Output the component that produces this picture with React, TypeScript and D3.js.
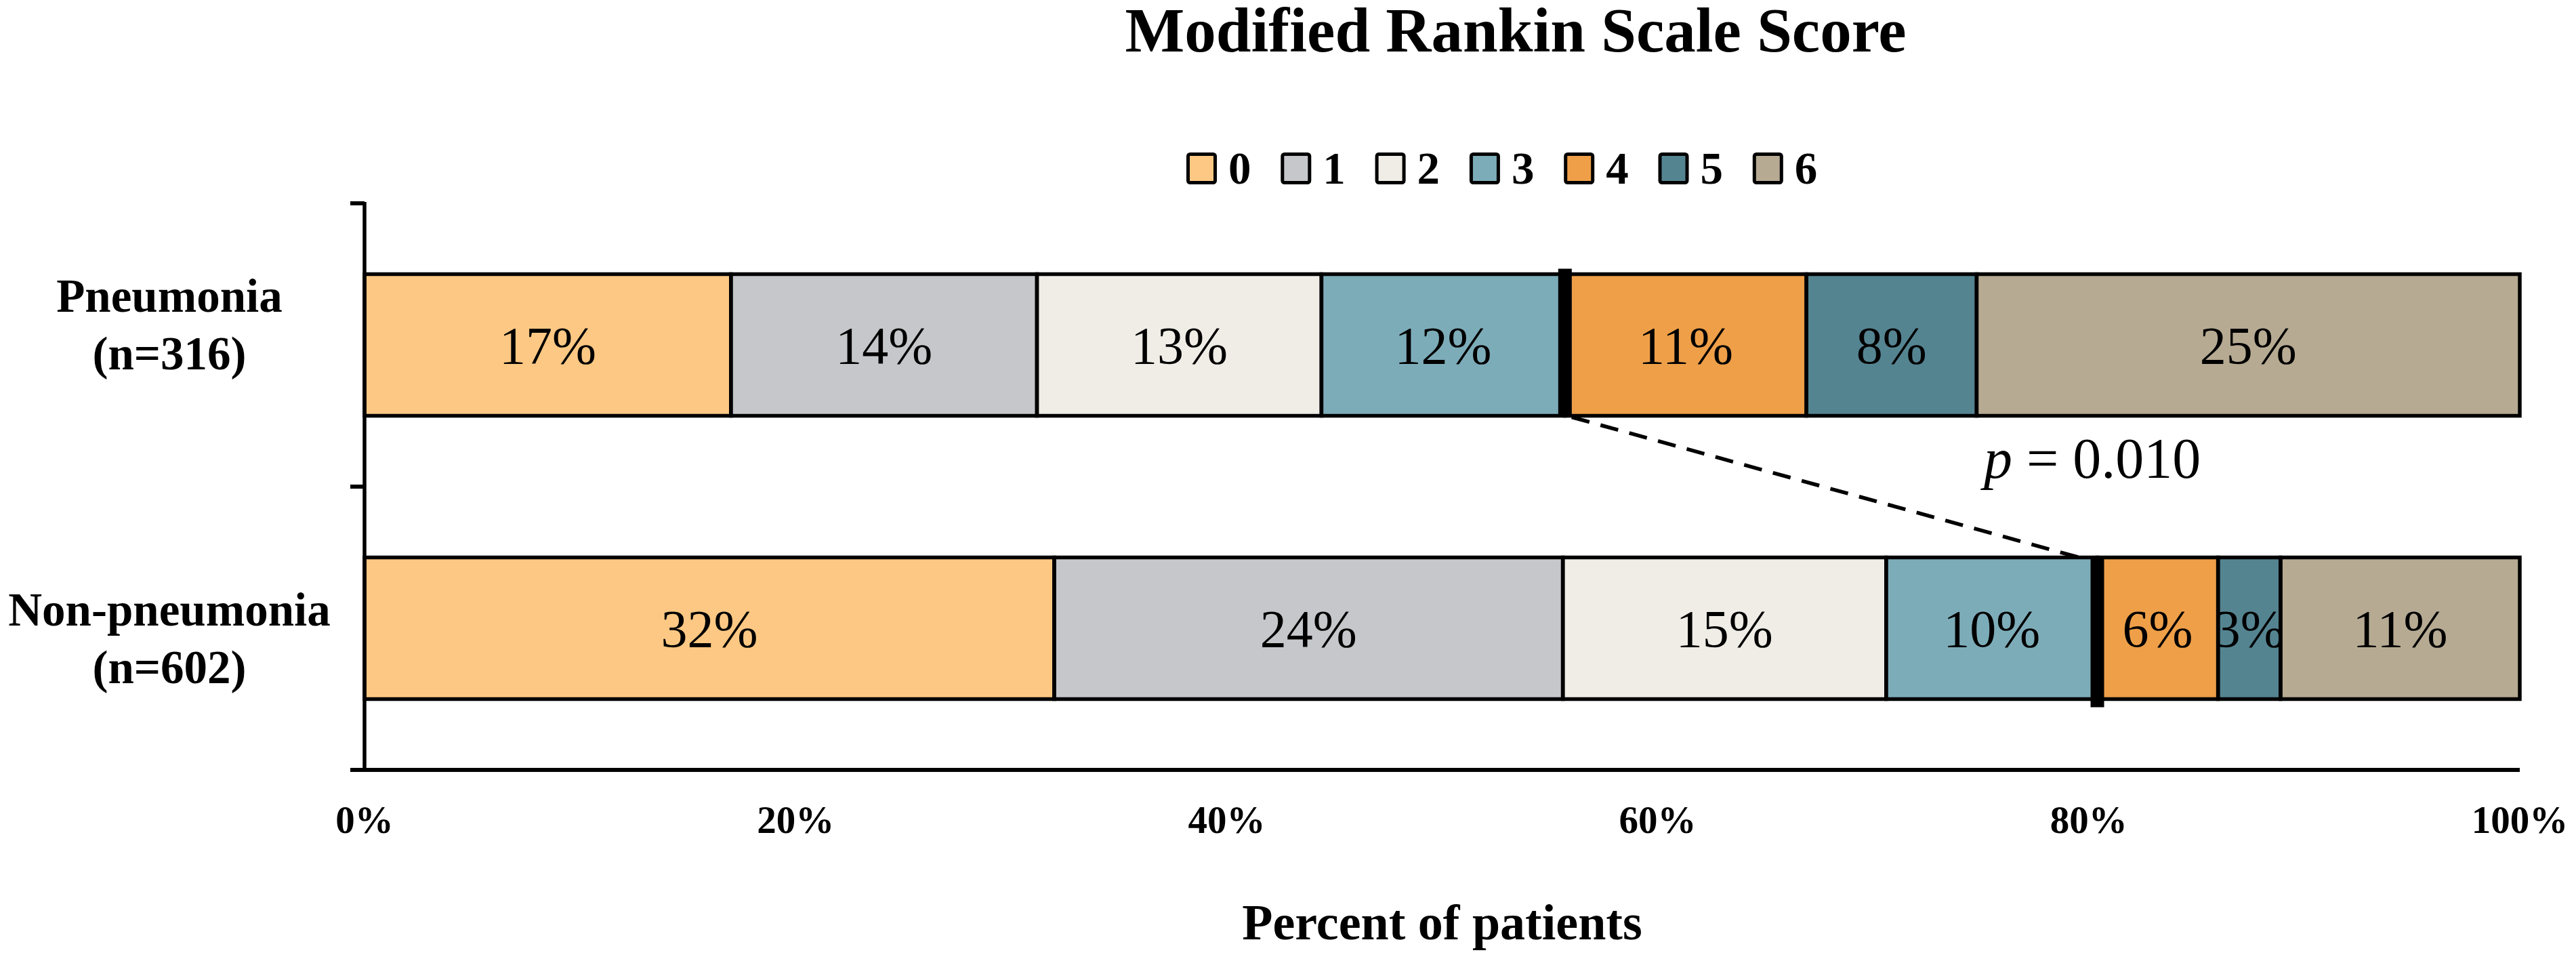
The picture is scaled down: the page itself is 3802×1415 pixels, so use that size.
import React, { useEffect, useRef } from "react";
import * as d3 from "d3";

// Modified Rankin Scale distribution per group (percent of patients)
const groupNames = ["Pneumonia", "Non-pneumonia"];
const groupSizes = ["(n=316)", "(n=602)"];
const scoreKeys = ["0", "1", "2", "3", "4", "5", "6"];
const pneumoniaValues = [17.0, 14.2, 13.2, 11.3, 11.2, 7.9, 25.2];
const nonPneumoniaValues = [32.0, 23.6, 15.0, 9.8, 5.6, 2.9, 11.1];
const pneumoniaLabels = ["17%", "14%", "13%", "12%", "11%", "8%", "25%"];
const nonPneumoniaLabels = ["32%", "24%", "15%", "10%", "6%", "3%", "11%"];
const scoreColors = ["#FCC883", "#C6C7CB", "#F0ECE6", "#7DACB9", "#EE9F48", "#558491", "#B6AA93"];
const xTickValues = [0, 20, 40, 60, 80, 100];
const pValue = "0.010";
const markerAfterScore = 3; // thick divider between score 3 and 4

const W = 3802;
const H = 1415;
const FONT = "'Liberation Serif', 'Times New Roman', serif";

export default function App() {
  const svgRef = useRef<SVGSVGElement>(null);

  useEffect(() => {
    if (!svgRef.current) return;
    const svg = d3.select(svgRef.current);
    svg.selectAll("*").remove();

    const x = d3.scaleLinear().domain([0, 100]).range([538, 3719]);
    const y = d3
      .scaleBand<string>()
      .domain(groupNames)
      .range([300, 1136])
      .paddingInner(0.5)
      .paddingOuter(0.25);

    const values = [pneumoniaValues, nonPneumoniaValues];
    const labels = [pneumoniaLabels, nonPneumoniaLabels];

    // title
    svg
      .append("text")
      .attr("x", 2237)
      .attr("y", 76)
      .attr("text-anchor", "middle")
      .attr("font-family", FONT)
      .attr("font-weight", "bold")
      .attr("font-size", 93)
      .text("Modified Rankin Scale Score");

    // legend
    const legend = svg.append("g").attr("transform", "translate(1751,225)");
    scoreKeys.forEach((k, i) => {
      const item = legend.append("g").attr("transform", `translate(${i * 139.3},0)`);
      item
        .append("rect")
        .attr("x", 2.5)
        .attr("y", 2.5)
        .attr("width", 40)
        .attr("height", 42)
        .attr("rx", 3)
        .attr("fill", scoreColors[i])
        .attr("stroke", "#000")
        .attr("stroke-width", 5);
      item
        .append("text")
        .attr("x", 62)
        .attr("y", 46)
        .attr("font-family", FONT)
        .attr("font-weight", "bold")
        .attr("font-size", 67)
        .text(k);
    });

    const defs = svg.append("defs");

    // bars
    groupNames.forEach((g, gi) => {
      const y0 = y(g)!;
      const bh = y.bandwidth();
      let cum = 0;
      values[gi].forEach((v, i) => {
        const x0 = x(cum);
        const x1 = x(cum + v);
        cum += v;
        const id = `clip-${gi}-${i}`;
        defs
          .append("clipPath")
          .attr("id", id)
          .append("rect")
          .attr("x", x0)
          .attr("y", y0)
          .attr("width", x1 - x0)
          .attr("height", bh);
        svg
          .append("rect")
          .attr("x", x0)
          .attr("y", y0)
          .attr("width", x1 - x0)
          .attr("height", bh)
          .attr("fill", scoreColors[i]);
        svg
          .append("text")
          .attr("clip-path", `url(#${id})`)
          .attr("x", (x0 + x1) / 2)
          .attr("y", y0 + bh / 2 + 27)
          .attr("text-anchor", "middle")
          .attr("font-family", FONT)
          .attr("font-size", 78)
          .text(labels[gi][i]);
      });
      cum = 0;
      values[gi].forEach((v) => {
        svg
          .append("rect")
          .attr("x", x(cum))
          .attr("y", y0)
          .attr("width", x(cum + v) - x(cum))
          .attr("height", bh)
          .attr("fill", "none")
          .attr("stroke", "#000")
          .attr("stroke-width", 5.5);
        cum += v;
      });
    });

    // thick dividers + dashed connector
    const markerX = values.map((vals) => x(d3.sum(vals.slice(0, markerAfterScore + 1))));
    const top0 = y(groupNames[0])!;
    const top1 = y(groupNames[1])!;
    const bh = y.bandwidth();
    svg
      .append("rect")
      .attr("x", markerX[0] - 10)
      .attr("y", top0 - 8)
      .attr("width", 20)
      .attr("height", bh + 10)
      .attr("fill", "#000");
    svg
      .append("rect")
      .attr("x", markerX[1] - 10)
      .attr("y", top1)
      .attr("width", 20)
      .attr("height", bh + 12)
      .attr("fill", "#000");
    svg
      .append("line")
      .attr("x1", markerX[0] + 10)
      .attr("y1", top0 + bh + 2)
      .attr("x2", markerX[1] - 27)
      .attr("y2", top1)
      .attr("stroke", "#000")
      .attr("stroke-width", 5.5)
      .attr("stroke-dasharray", "27 17");

    // p value
    const pText = svg
      .append("text")
      .attr("x", 2928)
      .attr("y", 705)
      .attr("font-family", FONT)
      .attr("font-size", 84);
    pText.append("tspan").attr("font-style", "italic").text("p");
    pText.append("tspan").text(` = ${pValue}`);

    // y axis
    const yTop = y.range()[0];
    const yBottom = y.range()[1];
    svg
      .append("line")
      .attr("x1", x(0))
      .attr("x2", x(0))
      .attr("y1", yTop - 2)
      .attr("y2", yBottom)
      .attr("stroke", "#000")
      .attr("stroke-width", 5.5);
    d3.range(groupNames.length + 1).forEach((i) => {
      const ty = yTop + ((yBottom - yTop) * i) / groupNames.length;
      svg
        .append("line")
        .attr("x1", x(0) - 21)
        .attr("x2", x(0))
        .attr("y1", ty)
        .attr("y2", ty)
        .attr("stroke", "#000")
        .attr("stroke-width", 6);
    });

    // x axis
    svg
      .append("line")
      .attr("x1", x(0))
      .attr("x2", x(100))
      .attr("y1", yBottom)
      .attr("y2", yBottom)
      .attr("stroke", "#000")
      .attr("stroke-width", 6);
    xTickValues.forEach((t) => {
      svg
        .append("text")
        .attr("x", x(t))
        .attr("y", 1229)
        .attr("text-anchor", "middle")
        .attr("font-family", FONT)
        .attr("font-weight", "bold")
        .attr("font-size", 57)
        .text(`${t}%`);
    });
    svg
      .append("text")
      .attr("x", (x(0) + x(100)) / 2)
      .attr("y", 1386)
      .attr("text-anchor", "middle")
      .attr("font-family", FONT)
      .attr("font-weight", "bold")
      .attr("font-size", 74)
      .text("Percent of patients");

    // category labels
    const labelShift = [-49, -4];
    groupNames.forEach((g, gi) => {
      const cy = y(g)! + y.bandwidth() / 2 + labelShift[gi];
      const t = svg
        .append("text")
        .attr("text-anchor", "middle")
        .attr("font-family", FONT)
        .attr("font-weight", "bold")
        .attr("font-size", 69);
      t.append("tspan").attr("x", 250).attr("y", cy).text(g);
      t.append("tspan").attr("x", 250).attr("y", cy + 85).text(groupSizes[gi]);
    });
  }, []);

  return (
    <svg
      ref={svgRef}
      width={W}
      height={H}
      viewBox={`0 0 ${W} ${H}`}
      style={{ position: "absolute", left: 0, top: 0, background: "#fff" }}
    />
  );
}
